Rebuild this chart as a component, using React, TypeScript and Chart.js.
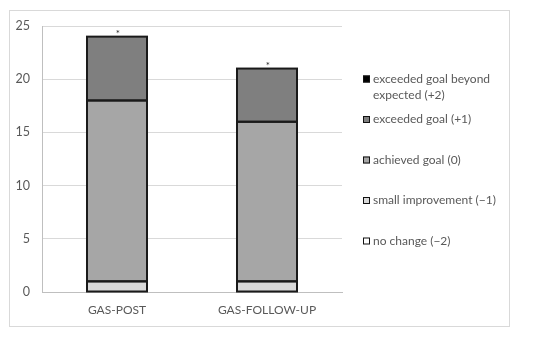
import React, { useEffect, useRef } from "react";
import { Chart, registerables } from "chart.js";

Chart.register(...registerables);

const categories = ["GAS-POST", "GAS-FOLLOW-UP"];
const noChange = [0, 0];
const smallImprovement = [1, 1];
const achievedGoal = [17, 15];
const exceededGoal = [6, 5];
const exceededBeyond = [0, 0];
const significance = ["*", "*"];
const yTicks = [0, 5, 10, 15, 20, 25];

const seriesLabels = [
  "no change (\u22122)",
  "small improvement (\u22121)",
  "achieved goal (0)",
  "exceeded goal (+1)",
  "exceeded goal beyond expected (+2)",
];
const seriesColors = ["#ffffff", "#d9d9d9", "#a6a6a6", "#7f7f7f", "#000000"];
const seriesData = [noChange, smallImprovement, achievedGoal, exceededGoal, exceededBeyond];

const FONT = "Lato, 'Open Sans', 'Liberation Sans', sans-serif";

const extrasPlugin = {
  id: "extras",
  afterDatasetsDraw(chart: any) {
    const ctx = chart.ctx;
    ctx.save();
    ctx.strokeStyle = "#1a1a1a";
    ctx.lineWidth = 2;
    chart.data.datasets.forEach((ds: any, di: number) => {
      const meta = chart.getDatasetMeta(di);
      meta.data.forEach((el: any, i: number) => {
        if (!ds.data[i]) return;
        const { x, y, base, width } = el.getProps(["x", "y", "base", "width"], true);
        const left = x - width / 2;
        const top = Math.min(y, base);
        const h = Math.abs(base - y);
        ctx.strokeRect(left, top, width, h);
      });
    });
    ctx.restore();
  },
  afterDraw(chart: any) {
    const ctx = chart.ctx;
    const x = chart.scales.x;
    const y = chart.scales.y;
    ctx.save();
    // significance marks
    ctx.fillStyle = "#262626";
    ctx.font = `10px ${FONT}`;
    ctx.textAlign = "center";
    ctx.textBaseline = "middle";
    categories.forEach((c, i) => {
      let total = 0;
      seriesData.forEach((s) => (total += s[i]));
      const px = x.getPixelForValue(i);
      const py = y.getPixelForValue(total);
      ctx.fillText(significance[i], px + 1, py - 3);
    });
    // legend (top item = last series)
    const lx = 363;
    const boxSize = 7;
    const rowY = [79, 119.5, 160, 200.5, 241];
    ctx.font = `12px ${FONT}`;
    ctx.textAlign = "left";
    ctx.textBaseline = "middle";
    const order = [4, 3, 2, 1, 0];
    order.forEach((si, r) => {
      const cy = rowY[r];
      ctx.fillStyle = seriesColors[si];
      ctx.fillRect(lx, cy - boxSize / 2, boxSize, boxSize);
      ctx.strokeStyle = "#111";
      ctx.lineWidth = 1;
      ctx.strokeRect(lx + 0.5, cy - boxSize / 2 + 0.5, boxSize - 1, boxSize - 1);
      ctx.fillStyle = "#595959";
      const label = seriesLabels[si];
      if (si === 4) {
        ctx.fillText("exceeded goal beyond", lx + 10, cy);
        ctx.fillText("expected (+2)", lx + 10, cy + 16);
      } else {
        ctx.fillText(label, lx + 10, cy);
      }
    });
    ctx.restore();
  },
};

export default function App() {
  const ref = useRef<HTMLCanvasElement>(null);
  useEffect(() => {
    document.body.style.margin = "0";
    const chart = new Chart(ref.current!, {
      type: "bar",
      data: {
        labels: categories,
        datasets: seriesData.map((d, i) => ({
          label: seriesLabels[i],
          data: d,
          backgroundColor: seriesColors[i],
          borderWidth: 0,
          inflateAmount: 0,
          barPercentage: 0.4,
          categoryPercentage: 1,
        })),
      },
      options: {
        animation: false,
        responsive: false,
        maintainAspectRatio: false,
        layout: { padding: { left: 0, right: 208, top: 26, bottom: 0 } },
        plugins: { legend: { display: false }, tooltip: { enabled: false } },
        scales: {
          x: {
            stacked: true,
            grid: { display: false, drawTicks: false },
            border: { display: true, color: "#bfbfbf", width: 1 },
            ticks: { color: "#595959", font: { size: 12, family: FONT }, padding: 11 },
            afterFit: (s: any) => {
              s.height = 45;
            },
          },
          y: {
            stacked: true,
            min: 0,
            max: 25,
            afterBuildTicks: (s: any) => {
              s.ticks = yTicks.map((v) => ({ value: v }));
            },
            grid: { color: "#d9d9d9", drawTicks: false, lineWidth: 1 },
            border: { display: true, color: "#bfbfbf", width: 1 },
            ticks: { color: "#595959", font: { size: 12.5, family: FONT }, padding: 12 },
            afterFit: (s: any) => {
              s.width = 42;
            },
          },
        },
      },
      plugins: [extrasPlugin],
    });
    return () => chart.destroy();
  }, []);
  return (
    <div style={{ position: "relative", width: 550, height: 337, background: "#fff" }}>
      <div
        style={{
          position: "absolute",
          left: 9,
          top: 10,
          width: 499,
          height: 315,
          border: "1px solid #d9d9d9",
        }}
      />
      <canvas ref={ref} width={550} height={337} style={{ position: "absolute", left: 0, top: 0 }} />
    </div>
  );
}
